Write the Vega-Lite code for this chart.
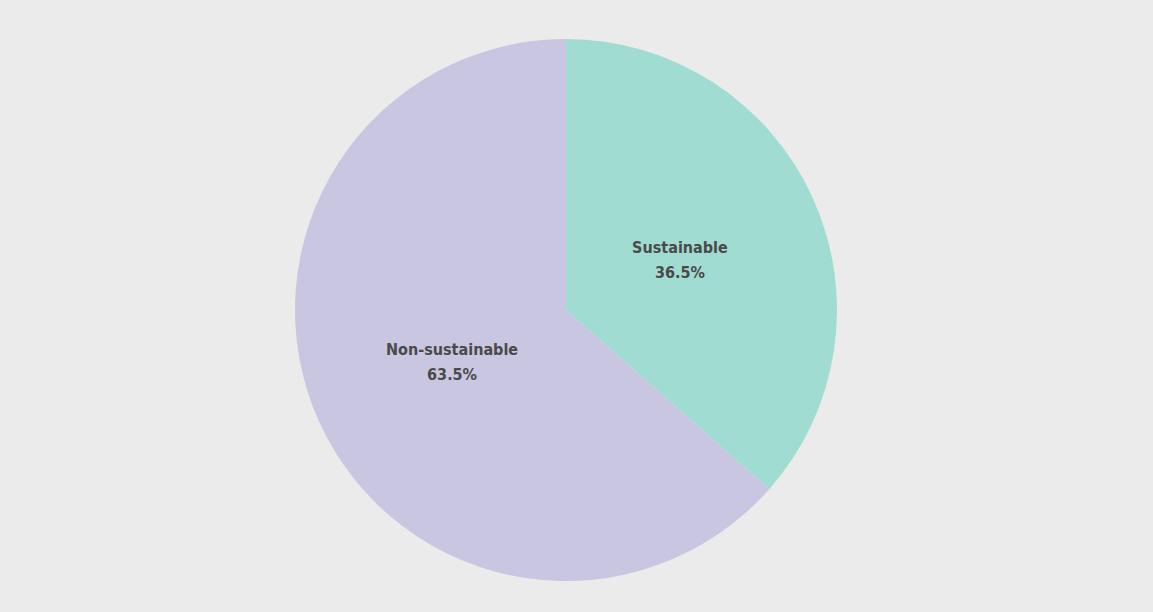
{
  "$schema": "https://vega.github.io/schema/vega-lite/v6.json",
  "width": 1153,
  "height": 612,
  "autosize": {"type": "fit", "contains": "padding"},
  "padding": {"left": 0, "right": 21, "top": 8, "bottom": 0},
  "background": "#ebebeb",
  "view": {"stroke": null},
  "data": {
    "values": [
      {"category": "Sustainable", "share": 36.5, "order": 1, "label": "Sustainable\n36.5%"},
      {"category": "Non-sustainable", "share": 63.5, "order": 2, "label": "Non-sustainable\n63.5%"}
    ]
  },
  "encoding": {
    "theta": {"field": "share", "type": "quantitative", "stack": true},
    "order": {"field": "order", "type": "quantitative"}
  },
  "layer": [
    {
      "mark": {"type": "arc", "radius": 271},
      "encoding": {
        "color": {
          "field": "category",
          "type": "nominal",
          "scale": {"domain": ["Sustainable", "Non-sustainable"], "range": ["#a0dcd2", "#c8c6e0"]},
          "legend": null
        }
      }
    },
    {
      "mark": {
        "type": "text",
        "radius": 125,
        "dy": -11,
        "lineBreak": "\n",
        "font": "DejaVu Sans Condensed, Roboto Condensed, Liberation Sans, sans-serif",
        "fontWeight": "bold",
        "fontSize": 16,
        "lineHeight": 25,
        "color": "#4a4a4a",
        "align": "center",
        "baseline": "middle"
      },
      "encoding": {
        "text": {"field": "label", "type": "nominal"}
      }
    }
  ]
}
